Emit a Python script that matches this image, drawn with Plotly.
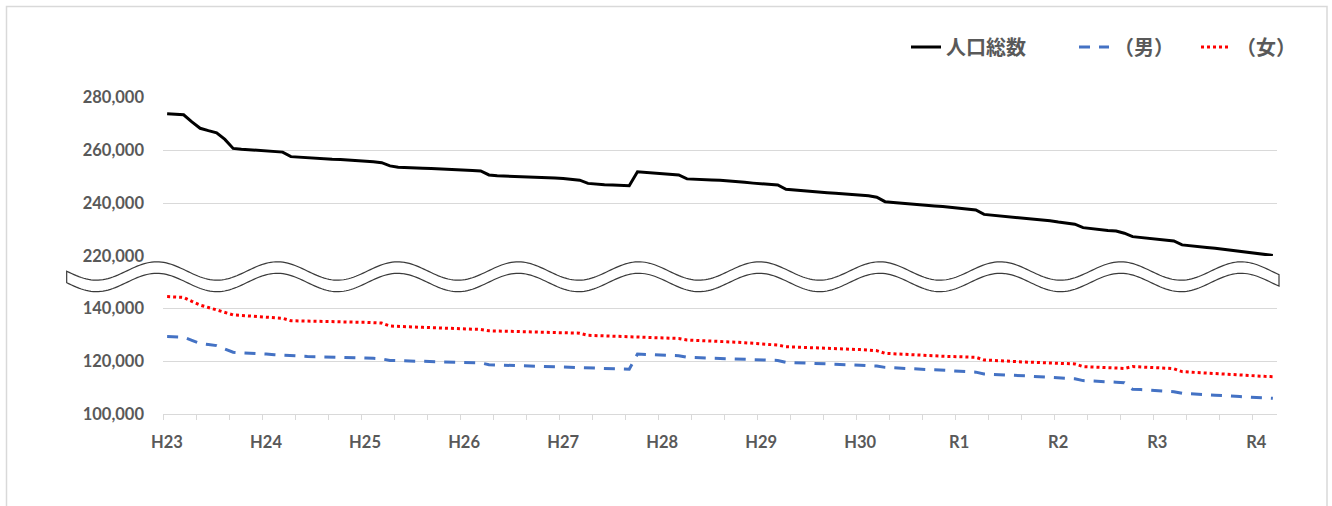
import numpy as np
import plotly.graph_objects as go

# ---------------- data ----------------
years = ["H23", "H24", "H25", "H26", "H27", "H28", "H29", "H30", "R1", "R2", "R3", "R4"]

total = [
    273700, 273400, 273300, 270600, 268200, 267300, 266500, 264000, 260600, 260300, 260100, 259900,
    259700, 259500, 259200, 257500, 257300, 256900, 256800, 256600, 256500, 256400, 256200, 256100,
    255800, 255600, 255200, 254000, 253500, 253300, 253200, 253100, 253000, 252900, 252800, 252700,
    252500, 252300, 252100, 250600, 250300, 250200, 250000, 249900, 249800, 249700, 249500, 249400,
    249200, 249000, 248600, 247400, 247100, 246900, 246800, 246700, 246500, 251800, 251600, 251400,
    251200, 251000, 250600, 249100, 248900, 248800, 248700, 248600, 248400, 248100, 247800, 247500,
    247300, 247000, 246800, 245200, 244900, 244600, 244400, 244000, 243900, 243700, 243500, 243300,
    243000, 242700, 242200, 240500, 240200, 239900, 239700, 239400, 239200, 238900, 238700, 238400,
    238000, 237700, 237400, 235700, 235400, 235100, 234800, 234600, 234300, 234000, 233700, 233300,
    232800, 232500, 232000, 230700, 230300, 229800, 229600, 229400, 228600, 227300, 227000, 226700,
    226400, 226100, 225700, 224200, 223800, 223500, 223200, 222900, 222500, 222100, 221700, 221300,
    221000, 220600, 220200,
]

male = [
    129200, 129100, 129000, 127800, 126600, 126200, 125800, 124500, 123300, 123100, 123000, 122800,
    122600, 122400, 122200, 121900, 121800, 121700, 121650, 121600, 121500, 121400, 121300, 121200,
    121100, 121000, 120800, 120200, 120100, 120000, 119950, 119900, 119850, 119800, 119700, 119600,
    119500, 119400, 119300, 118600, 118500, 118450, 118400, 118300, 118200, 118100, 118000, 117950,
    117900, 117800, 117700, 117400, 117300, 117200, 117100, 117000, 116900, 122600, 122500, 122400,
    122300, 122200, 122000, 121400, 121300, 121200, 121100, 121100, 121000, 120900, 120800, 120700,
    120500, 120400, 120200, 119500, 119400, 119300, 119200, 119100, 118900, 118800, 118700, 118500,
    118400, 118200, 118100, 117600, 117400, 117300, 117100, 117000, 116800, 116700, 116500, 116400,
    116200, 116000, 115800, 115100, 115000, 114800, 114700, 114500, 114400, 114200, 114000, 113900,
    113700, 113500, 113300, 112600, 112500, 112300, 112200, 112000, 111800, 109300, 109200, 109000,
    108800, 108600, 108400, 107800, 107700, 107500, 107300, 107100, 107000, 106800, 106600, 106400,
    106200, 106000, 105900,
]

female = [
    144300, 144200, 144000, 142500, 141100, 140200, 139200, 138200, 137400, 137200, 137000, 136800,
    136600, 136400, 136100, 135200, 135100, 135000, 134950, 134900, 134850, 134800, 134700, 134650,
    134600, 134500, 134300, 133200, 133000, 132900, 132800, 132700, 132600, 132500, 132400, 132300,
    132200, 132000, 131900, 131400, 131300, 131200, 131100, 131000, 130950, 130900, 130800, 130700,
    130600, 130550, 130500, 129700, 129600, 129500, 129400, 129300, 129200, 129000, 128900, 128800,
    128700, 128600, 128500, 127900, 127800, 127600, 127500, 127400, 127300, 127100, 126900, 126700,
    126500, 126300, 126000, 125400, 125300, 125200, 125000, 124900, 124800, 124600, 124500, 124400,
    124300, 124100, 123900, 122900, 122700, 122600, 122400, 122300, 122100, 122000, 121800, 121700,
    121600, 121500, 121400, 120400, 120200, 120100, 119900, 119800, 119600, 119500, 119400, 119300,
    119100, 119000, 118900, 117900, 117800, 117600, 117500, 117300, 117200, 117900, 117800, 117700,
    117500, 117300, 117100, 116000, 115800, 115600, 115400, 115200, 115000, 114900, 114700, 114500,
    114400, 114200, 114100,
]

series_names = ["人口総数", "（男）", "（女）"]
upper_ticks = [220000, 240000, 260000, 280000]
lower_ticks = [100000, 120000, 140000]

# ---------------- layout geometry ----------------
W, H = 1332, 506
L, R, T, B = 163, 55, 97, 92
PW, PH = W - L - R, H - T - B
PX_PER_UNIT = 53.0 / 20000  # vertical pixels per person on both axis pieces

n = len(total)
months = list(range(n))


def to_paper(x, y):
    return (x - L) / PW, (H - B - y) / PH


# x ticks: marks every 4 months (category boundaries), labels every 12 months
tick_pos = [k - 0.5 for k in range(0, n, 4)]
tick_txt = [years[(k // 12)] if k % 12 == 0 else "" for k in range(0, n, 4)]

GRID = "#d9d9d9"
TXT = "#595959"
tick_font = dict(family="Lato, 'Liberation Sans', sans-serif", size=16.5, color=TXT, weight="bold")

# lower axis piece reaches up to just under the break band (so values >140,000 stay visible)
low_top = 150000
low_dom_top = (low_top - lower_ticks[0]) * PX_PER_UNIT / PH
up_dom_bot = 1 - (upper_ticks[-1] - upper_ticks[0]) * PX_PER_UNIT / PH

fig = go.Figure()
fig.add_trace(go.Scatter(x=months, y=total, name=series_names[0], mode="lines",
                         line=dict(color="#000000", width=3), yaxis="y2", legendwidth=123))
fig.add_trace(go.Scatter(x=months, y=male, name=series_names[1], mode="lines",
                         line=dict(color="#4472C4", width=3, dash="11px,9px"), yaxis="y", legendwidth=77))
fig.add_trace(go.Scatter(x=months, y=female, name=series_names[2], mode="lines",
                         line=dict(color="#FF0000", width=3, dash="dot"), yaxis="y", legendwidth=45))

# ---- wavy break band (decoration) ----
xs = np.linspace(66.7, 1279, 500)
up = 271 - 9.2 * np.cos(2 * np.pi * (xs - 156.7) / 120.5)
lo = up + 11.5
pts = [to_paper(x, y) for x, y in zip(xs, up)] + [to_paper(x, y) for x, y in zip(xs[::-1], lo[::-1])]
path = "M " + " L ".join(f"{px:.5f},{py:.5f}" for px, py in pts) + " Z"

bx0, by0 = to_paper(6.5, 6.5)
bx1, by1 = to_paper(1327, 520)

fig.update_layout(
    width=W, height=H, autosize=False,
    margin=dict(l=L, r=R, t=T, b=B, pad=0),
    paper_bgcolor="white", plot_bgcolor="white",
    showlegend=True,
    legend=dict(orientation="h", x=to_paper(906, 0)[0], xanchor="left", y=to_paper(0, 47)[1], yanchor="middle",
                font=dict(family="'Noto Sans CJK JP', sans-serif", size=20, color=TXT, weight="bold"),
                bgcolor="rgba(0,0,0,0)", itemwidth=30, tracegroupgap=0),
    xaxis=dict(range=[-0.5, n - 0.5], tickmode="array", tickvals=tick_pos, ticktext=tick_txt,
               ticks="outside", ticklen=5, tickcolor=GRID, tickwidth=1,
               ticklabelshift=4, ticklabelstandoff=8,
               showline=True, linecolor=GRID, linewidth=1, showgrid=False, zeroline=False,
               tickfont=tick_font, anchor="y", fixedrange=True),
    yaxis=dict(domain=[0, low_dom_top], range=[lower_ticks[0], low_top], tickmode="array",
               tickvals=lower_ticks, tickformat=",d", showgrid=True, gridcolor=GRID, gridwidth=1,
               zeroline=False, showline=False, ticks="", tickfont=tick_font, ticklabelstandoff=18,
               anchor="x", fixedrange=True),
    yaxis2=dict(domain=[up_dom_bot, 1], range=[upper_ticks[0], upper_ticks[-1]], tickmode="array",
                tickvals=upper_ticks, tickformat=",d", showgrid=True, gridcolor=GRID, gridwidth=1,
                zeroline=False, showline=False, ticks="", tickfont=tick_font, ticklabelstandoff=18,
                anchor="x", fixedrange=True),
    shapes=[
        dict(type="path", xref="paper", yref="paper", path=path, fillcolor="white",
             line=dict(color="#3a3a3a", width=1.2), layer="above"),
        dict(type="rect", xref="paper", yref="paper", x0=bx0, y0=by1, x1=bx1, y1=by0,
             line=dict(color=GRID, width=1.5), fillcolor="rgba(0,0,0,0)", layer="below"),
    ],
)

fig.write_html("out.html", config={"displayModeBar": False},
               post_script="document.body.style.margin='0';document.body.style.overflow='hidden';")
